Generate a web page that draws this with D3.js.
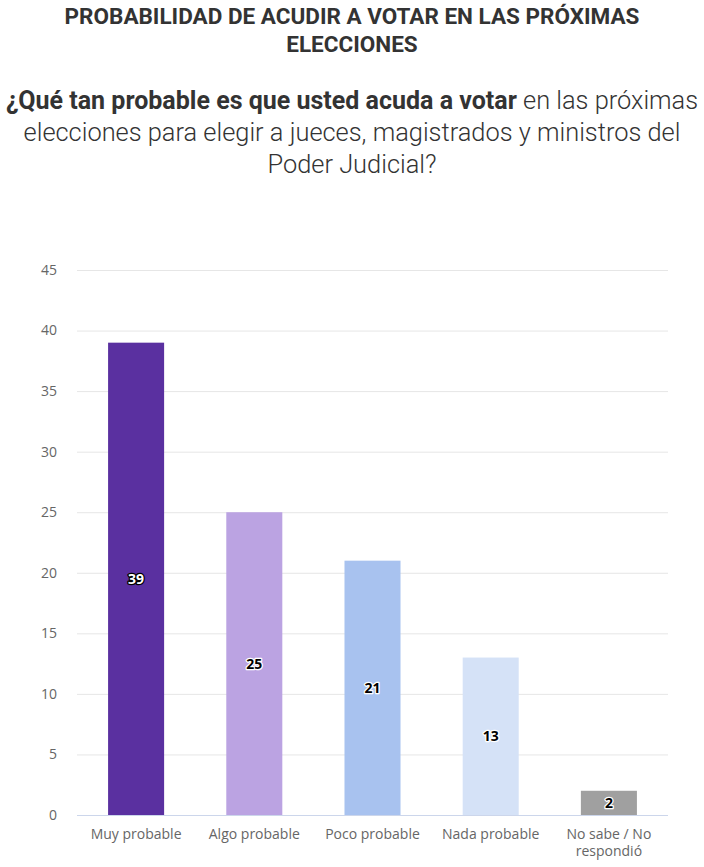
<!DOCTYPE html>
<html>
<head>
<meta charset="utf-8">
<script src="https://cdn.jsdelivr.net/npm/d3@7"></script>
<style>
  body { margin: 0; background: #fff; }
  svg { display: block; }
</style>
</head>
<body>
<svg width="704" height="867"></svg>
<script>
const categories = ['Muy probable', 'Algo probable', 'Poco probable', 'Nada probable', 'No sabe / No respondió'];
const values = [39, 25, 21, 13, 2];
const colors = ['#5a30a0', '#bba3e2', '#a8c2ef', '#d5e2f7', '#a0a0a0'];
const yTicks = [0, 5, 10, 15, 20, 25, 30, 35, 40, 45];

const svg = d3.select('svg');
const margin = { top: 270, right: 36, bottom: 52, left: 77 };
const width = +svg.attr('width');
const height = +svg.attr('height');
const innerWidth = width - margin.left - margin.right;
const innerHeight = height - margin.top - margin.bottom;

// titles
const titleFont = '"Liberation Sans Narrow", "Roboto", sans-serif';
svg.append('text')
  .attr('x', width / 2).attr('y', 24)
  .attr('text-anchor', 'middle')
  .style('font-family', titleFont).style('font-weight', 700).style('font-size', '22.5px')
  .style('fill', '#333')
  .text('PROBABILIDAD DE ACUDIR A VOTAR EN LAS PRÓXIMAS');
svg.append('text')
  .attr('x', width / 2).attr('y', 52)
  .attr('text-anchor', 'middle')
  .style('font-family', titleFont).style('font-weight', 700).style('font-size', '22.5px')
  .style('fill', '#333')
  .text('ELECCIONES');

const sub = svg.append('text')
  .attr('text-anchor', 'middle')
  .style('font-family', 'Roboto, sans-serif').style('font-weight', 300).style('font-size', '25.4px')
  .style('fill', '#333');
const l1 = sub.append('tspan').attr('x', width / 2).attr('y', 109);
l1.append('tspan')
  .style('font-family', titleFont).style('font-weight', 700).style('font-size', '25px')
  .text('¿Qué tan probable es que usted acuda a votar');
l1.append('tspan').text(' en las próximas');
sub.append('tspan').attr('x', width / 2).attr('y', 141)
  .text('elecciones para elegir a jueces, magistrados y ministros del');
sub.append('tspan').attr('x', width / 2).attr('y', 173)
  .text('Poder Judicial?');

const g = svg.append('g').attr('transform', `translate(${margin.left}, ${margin.top})`);

const x = d3.scaleBand().domain(categories).range([0, innerWidth]).paddingInner(0.526).paddingOuter(0.263);
const y = d3.scaleLinear().domain([0, 45]).range([innerHeight, 0]);

// grid
g.selectAll('.grid')
  .data(yTicks.filter(d => d > 0))
  .join('line')
  .attr('x1', 0).attr('x2', innerWidth)
  .attr('y1', d => y(d) + 0.5).attr('y2', d => y(d) + 0.5)
  .style('stroke', '#e6e6e6').style('stroke-width', 1);

// y labels
g.selectAll('.ylab')
  .data(yTicks)
  .join('text')
  .attr('x', -20).attr('y', d => y(d))
  .attr('dy', '0.35em')
  .attr('text-anchor', 'end')
  .style('font-family', '"Open Sans", sans-serif').style('font-size', '14px')
  .style('fill', '#666')
  .text(d => d);

// bars
g.selectAll('rect')
  .data(values)
  .join('rect')
  .attr('x', (d, i) => x(categories[i]))
  .attr('y', d => y(d))
  .attr('width', x.bandwidth())
  .attr('height', d => innerHeight - y(d))
  .style('fill', (d, i) => colors[i]);

// baseline
g.append('line')
  .attr('x1', 0).attr('x2', innerWidth)
  .attr('y1', innerHeight + 0.5).attr('y2', innerHeight + 0.5)
  .style('stroke', '#ccd6eb').style('stroke-width', 1);

// data labels
g.selectAll('.dlab')
  .data(values)
  .join('text')
  .attr('x', (d, i) => x(categories[i]) + x.bandwidth() / 2)
  .attr('y', d => (y(d) + innerHeight) / 2)
  .attr('dy', '0.35em')
  .attr('text-anchor', 'middle')
  .style('font-family', '"Open Sans", sans-serif').style('font-weight', 700).style('font-size', '14px')
  .style('paint-order', 'stroke')
  .style('stroke', (d, i) => i === 0 ? '#000' : '#fff')
  .style('stroke-width', 2.5)
  .style('stroke-linejoin', 'round')
  .style('fill', (d, i) => i === 0 ? '#fff' : '#000')
  .text(d => d);

// x labels
const xl = g.selectAll('.xlab')
  .data(categories)
  .join('text')
  .attr('text-anchor', 'middle')
  .attr('y', innerHeight + 24)
  .style('font-family', '"Open Sans", sans-serif').style('font-size', '14px')
  .style('fill', '#666');
xl.each(function (d) {
  const cx = x(d) + x.bandwidth() / 2;
  const t = d3.select(this);
  if (d === 'No sabe / No respondió') {
    t.append('tspan').attr('x', cx).text('No sabe / No');
    t.append('tspan').attr('x', cx).attr('dy', 17).text('respondió');
  } else {
    t.append('tspan').attr('x', cx).text(d);
  }
});
</script>
</body>
</html>
